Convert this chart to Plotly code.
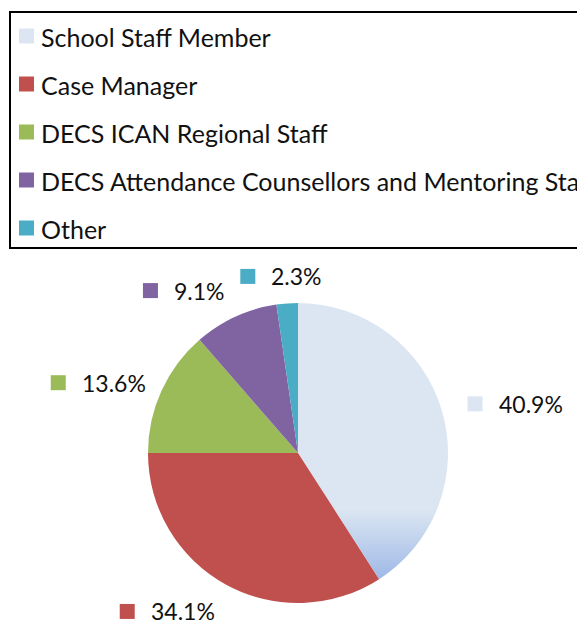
import math
import plotly.graph_objects as go

categories = ["School Staff Member", "Case Manager", "DECS ICAN Regional Staff",
              "DECS Attendance Counsellors and Mentoring Staff", "Other"]
values = [40.9, 34.1, 13.6, 9.1, 2.3]
value_labels = ["40.9%", "34.1%", "13.6%", "9.1%", "2.3%"]
colors = ["#dce6f2", "#c0504d", "#9bbb59", "#8064a2", "#4bacc6"]

OFF = 8                      # page body margin
W, H = 585 - OFF, 621 - OFF  # figure size
CX, CY, R = 298, 453, 150    # pie centre / radius in page pixels
FONT = "Lato, Noto Sans, sans-serif"


def px(x):
    return (x - OFF) / W


def py(y):
    return 1 - (y - OFF) / H


fig = go.Figure(go.Pie(
    labels=categories, values=values, sort=False, direction="clockwise", rotation=0,
    marker=dict(colors=colors, line=dict(width=0)),
    textinfo="none", hoverinfo="label+percent", showlegend=False,
    domain=dict(x=[px(CX - R), px(CX + R)], y=[py(CY + R), py(CY - R)]),
))

shapes = []
annotations = []
total = sum(values)

# ---- gradient at the bottom of the first slice (Excel style fill) ----
end_ang = values[0] / total * 2 * math.pi
k = math.sin(end_ang) / (-math.cos(end_ang))  # dx/dy of the slice's end edge below centre
y_bottom = CY - R * math.cos(end_ang)
y_top_grad = y_bottom - 70
c0 = (0xdc, 0xe6, 0xf2)
c1 = (0x9c, 0xb7, 0xe6)
nb = 35
for i in range(nb):
    ya = y_top_grad + (y_bottom - y_top_grad) * i / nb
    yb = y_top_grad + (y_bottom - y_top_grad) * (i + 1) / nb + 0.6
    yb = min(yb, y_bottom)
    t = (i + 0.5) / nb
    col = "rgb(%d,%d,%d)" % tuple(round(a + (b - a) * t) for a, b in zip(c0, c1))
    pts = []
    steps = 4
    for j in range(steps + 1):
        yy = ya + (yb - ya) * j / steps
        pts.append((CX + math.sqrt(max(R * R - (yy - CY) ** 2, 0)) - 0.3, yy))
    lx = [(CX + k * (yy - CY) + 0.3, yy) for yy in (yb, ya)]
    poly = pts + lx
    path = "M " + " L ".join(f"{px(x):.5f},{py(y):.5f}" for x, y in poly) + " Z"
    shapes.append(dict(type="path", xref="paper", yref="paper", path=path,
                       fillcolor=col, line=dict(width=0), layer="above"))

# ---- data labels outside each slice ----
LSIZE = 23
CHAR_W = {".": 0.25, "%": 0.82}
LR = 160
cum = 0
for v, lab, col in zip(values, value_labels, colors):
    mid = (cum + v / 2) / total * 2 * math.pi
    cum += v
    s, c = math.sin(mid), math.cos(mid)
    ax = CX + LR * s
    ay = CY - LR * c
    tw = sum(CHAR_W.get(ch, 0.58) for ch in lab) * LSIZE
    gw = 15 + 14 + tw
    if s > 0.3:
        gx = ax + 16
    elif s < -0.3:
        gx = ax - 8 - gw
    else:
        gx = ax - 6 - gw / 2
    if c > 0.5:
        gy = ay - 5 - 12
    elif c < -0.5:
        gy = ay + 6 + 12
    else:
        gy = ay - 4
    shapes.append(dict(type="rect", xref="paper", yref="paper",
                       x0=px(gx), x1=px(gx + 15), y0=py(gy + 7.5), y1=py(gy - 7.5),
                       line=dict(width=0), fillcolor=col))
    annotations.append(dict(
        x=px(gx + 29), y=py(gy), xref="paper", yref="paper", xanchor="left", yanchor="middle",
        showarrow=False, text=lab,
        font=dict(family=FONT, size=LSIZE, color="#111111"),
    ))

# ---- legend box ----
shapes.append(dict(type="rect", xref="paper", yref="paper",
                   x0=px(10), x1=px(620), y0=py(248), y1=py(12),
                   line=dict(color="black", width=2), fillcolor="rgba(0,0,0,0)"))
for i, (cat, col) in enumerate(zip(categories, colors)):
    yc = 36 + i * 48
    shapes.append(dict(type="rect", xref="paper", yref="paper",
                       x0=px(19), x1=px(34), y0=py(yc + 7.5), y1=py(yc - 7.5),
                       line=dict(width=0), fillcolor=col))
    annotations.append(dict(
        x=px(39), y=py(yc + 1), xref="paper", yref="paper", xanchor="left", yanchor="middle",
        showarrow=False, text=cat,
        font=dict(family=FONT, size=25, color="#111111"),
    ))

fig.update_layout(
    width=W, height=H, margin=dict(l=0, r=0, t=0, b=0),
    paper_bgcolor="white", plot_bgcolor="white",
    shapes=shapes, annotations=annotations,
)
fig.write_html("out.html")
